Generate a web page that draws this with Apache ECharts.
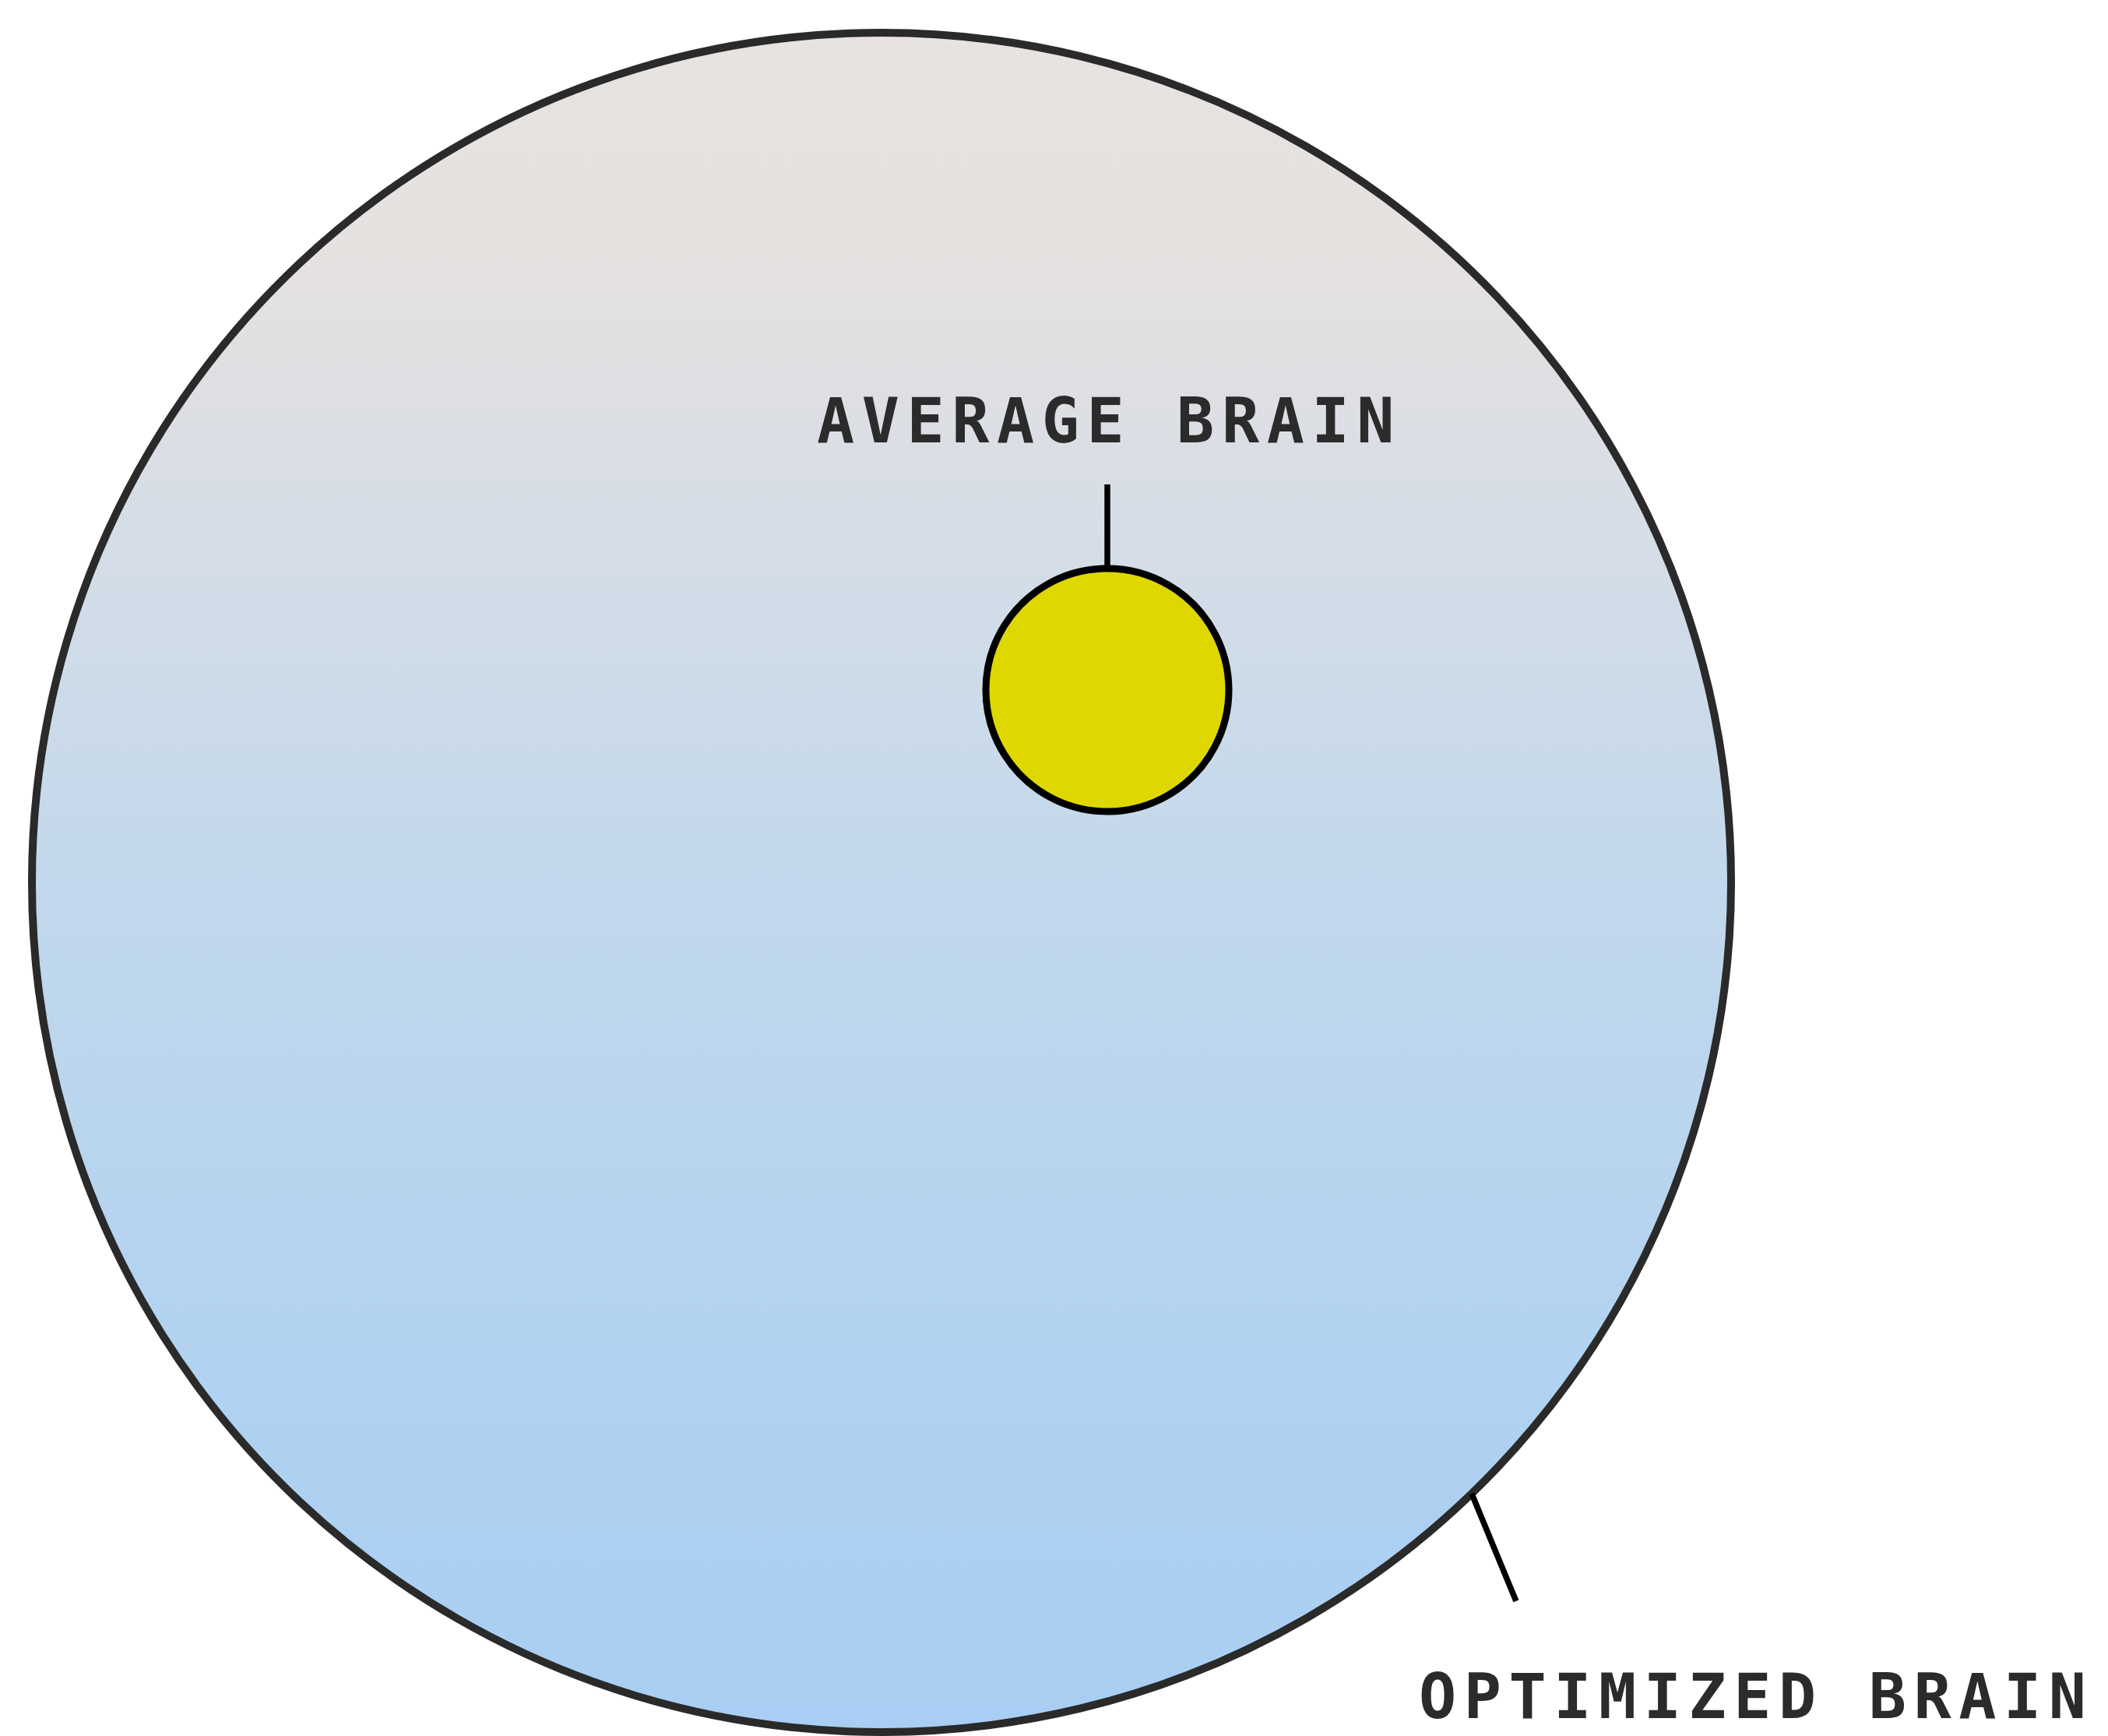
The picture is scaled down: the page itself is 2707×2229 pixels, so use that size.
<!DOCTYPE html>
<html>
<head>
<meta charset="utf-8">
<script src="https://cdn.jsdelivr.net/npm/echarts@6/dist/echarts.min.js"></script>
<style>
  html, body { margin: 0; padding: 0; background: #ffffff; }
  #chart { width: 2707px; height: 2229px; }
  #chart svg text { letter-spacing: 9.6px; }
</style>
</head>
<body>
<div id="chart"></div>
<script>
// ---- data ----
const names = ['OPTIMIZED BRAIN', 'AVERAGE BRAIN'];
const centerX = [1132, 1422];
const centerY = [1133, 886];
const radius = [1091, 156];
// leader line: angle on circle (deg, screen coords), dx / dy of its far end from the attach point
const leaderAngle = [46, -90];
const leaderDx = [57, 0];
const leaderDy = [138, -108];
// label anchor (left edge, text middle)
const labelX = [1822, 1049];
const labelY = [2178, 540];

const fills = [
  { type: 'linear', x: 0, y: 0, x2: 0, y2: 1, colorStops: [
    { offset: 0, color: '#e8e3e1' },
    { offset: 0.14, color: '#e5e1e0' },
    { offset: 0.3, color: '#d5dde7' },
    { offset: 0.5, color: '#c2d8ec' },
    { offset: 0.75, color: '#b3d3f0' },
    { offset: 1, color: '#a8cef3' }
  ]},
  '#dfd700'
];
const strokes = ['#2a2a2a', '#000000'];

const seriesData = names.map((n, i) => [centerX[i], centerY[i], radius[i], i]);

const chart = echarts.init(document.getElementById('chart'), null, { renderer: 'svg' });
chart.setOption({
  backgroundColor: '#ffffff',
  animation: false,
  grid: { left: 0, top: 0, width: 2707, height: 2229 },
  xAxis: { type: 'value', min: 0, max: 2707, show: false },
  yAxis: { type: 'value', min: 0, max: 2229, inverse: true, show: false },
  series: [{
    type: 'custom',
    coordinateSystem: 'cartesian2d',
    data: seriesData,
    renderItem: function (params, api) {
      const i = api.value(3);
      const c = api.coord([api.value(0), api.value(1)]);
      const r = api.size([api.value(2), api.value(2)])[0];
      const a = leaderAngle[i] * Math.PI / 180;
      const ax = api.value(0) + api.value(2) * Math.cos(a);
      const ay = api.value(1) + api.value(2) * Math.sin(a);
      const p1 = api.coord([ax, ay]);
      const p2 = api.coord([ax + leaderDx[i], ay + leaderDy[i]]);
      const lp = api.coord([labelX[i], labelY[i]]);
      return {
        type: 'group',
        children: [
          {
            type: 'line',
            shape: { x1: p1[0], y1: p1[1], x2: p2[0], y2: p2[1] },
            style: { stroke: '#000000', lineWidth: 7.5 },
            z2: 3
          },
          {
            type: 'circle',
            shape: { cx: c[0], cy: c[1], r: r },
            style: { fill: fills[i], stroke: strokes[i], lineWidth: i === 0 ? 10 : 9 },
            z2: i === 0 ? 1 : 4
          },
          {
            type: 'text',
            x: lp[0], y: lp[1],
            style: {
              text: names[i],
              fill: '#2b2b2b',
              font: 'bold 80px "DejaVu Sans Mono", monospace',
              align: 'left',
              verticalAlign: 'middle'
            },
            z2: 5
          }
        ]
      };
    }
  }]
});
</script>
</body>
</html>
